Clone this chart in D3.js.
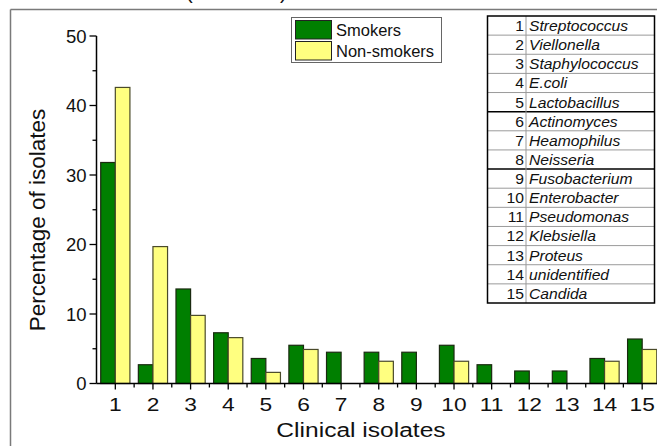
<!DOCTYPE html>
<html>
<head>
<meta charset="utf-8">
<script src="https://cdn.jsdelivr.net/npm/d3@7"></script>
<style>
  html, body { margin: 0; padding: 0; background: #fff; }
  svg { display: block; font-family: "Liberation Sans", Arial, sans-serif; }
</style>
</head>
<body>
<svg id="chart" width="657" height="446"></svg>
<script>
// Clinical isolate categories (1..15) and their names
const categories = [1, 2, 3, 4, 5, 6, 7, 8, 9, 10, 11, 12, 13, 14, 15];
const isolateNames = ["Streptococcus", "Viellonella", "Staphylococcus", "E.coli", "Lactobacillus",
  "Actinomyces", "Heamophilus", "Neisseria", "Fusobacterium", "Enterobacter",
  "Pseudomonas", "Klebsiella", "Proteus", "unidentified", "Candida"];

// Percentage of isolates per group
const smokers    = [31.8, 2.7, 13.6, 7.3, 3.6, 5.5, 4.5, 4.5, 4.5, 5.5, 2.7, 1.8, 1.8, 3.6, 6.4];
const nonSmokers = [42.6, 19.7, 9.8, 6.6, 1.6, 4.9, 0, 3.2, 0, 3.2, 0, 0, 0, 3.2, 4.9];

const seriesNames = ["Smokers", "Non-smokers"];
const seriesColors = ["#007f00", "#ffff80"];
const yTicks = [0, 10, 20, 30, 40, 50];

const svg = d3.select("#chart");

// outer frame (top and left edges)
svg.append("line").attr("x1", 10.5).attr("x2", 657).attr("y1", 9.5).attr("y2", 9.5)
  .attr("stroke", "#7a7a7a").attr("stroke-width", 1.5);
svg.append("line").attr("x1", 10.5).attr("x2", 10.5).attr("y1", 9.5).attr("y2", 446)
  .attr("stroke", "#7a7a7a").attr("stroke-width", 1.5);

// heading brackets, running off the top edge
svg.append("text").attr("x", 186).attr("y", -1).attr("font-size", 20).attr("fill", "#111").text("(");
svg.append("text").attr("x", 280).attr("y", -1).attr("font-size", 20).attr("fill", "#111").text(")");

// scales
const x = d3.scaleLinear().domain([0.5, 15.5]).range([96.5, 661]);
const y = d3.scaleLinear().domain([0, 50]).range([383.5, 36]);
const barW = 14.6;

// bars
const g = svg.append("g");
[smokers, nonSmokers].forEach((vals, si) => {
  g.selectAll(null).data(vals).enter().append("rect")
    .attr("x", (d, i) => si === 0 ? x(categories[i]) - barW : x(categories[i]))
    .attr("y", d => y(d))
    .attr("width", barW)
    .attr("height", d => y(0) - y(d))
    .attr("fill", seriesColors[si])
    .attr("stroke", si === 0 ? "#1a2a10" : "#4a4a2a")
    .attr("stroke-width", 1.2)
    .attr("display", d => d > 0 ? null : "none");
});

// y axis
const yAxis = svg.append("g").attr("transform", "translate(96.5,0)");
yAxis.append("line").attr("x1", 0).attr("x2", 0).attr("y1", y(50)).attr("y2", y(0))
  .attr("stroke", "#000").attr("stroke-width", 1.5);
yAxis.selectAll(".maj").data(yTicks).enter().append("line")
  .attr("x1", -7).attr("x2", 0).attr("y1", d => y(d)).attr("y2", d => y(d))
  .attr("stroke", "#000").attr("stroke-width", 1.3);
yAxis.selectAll(".min").data(d3.range(5, 50, 10)).enter().append("line")
  .attr("x1", -4).attr("x2", 0).attr("y1", d => y(d)).attr("y2", d => y(d))
  .attr("stroke", "#000").attr("stroke-width", 1.3);
yAxis.selectAll(".lbl").data(yTicks).enter().append("text")
  .attr("x", -10).attr("y", d => y(d) + 6.5)
  .attr("text-anchor", "end").attr("font-size", 18.5).attr("fill", "#111")
  .text(d => d);

// x axis
const xAxis = svg.append("g").attr("transform", `translate(0,${y(0)})`);
xAxis.append("line").attr("x1", x(0.5)).attr("x2", 657).attr("y1", 0).attr("y2", 0)
  .attr("stroke", "#000").attr("stroke-width", 1.5);
xAxis.selectAll(".maj").data(categories).enter().append("line")
  .attr("x1", d => x(d)).attr("x2", d => x(d)).attr("y1", 0).attr("y2", 6)
  .attr("stroke", "#000").attr("stroke-width", 1.3);
xAxis.selectAll(".min").data(d3.range(1.5, 15, 1)).enter().append("line")
  .attr("x1", d => x(d)).attr("x2", d => x(d)).attr("y1", 0).attr("y2", 4)
  .attr("stroke", "#000").attr("stroke-width", 1.3);
xAxis.selectAll(".lbl").data(categories).enter().append("text")
  .attr("transform", d => `translate(${x(d)},27.5) scale(1.3,1)`)
  .attr("text-anchor", "middle").attr("font-size", 17.5).attr("fill", "#111")
  .text(d => d);

// axis titles
svg.append("text").attr("transform", "translate(361,437) scale(1.17,1)")
  .attr("text-anchor", "middle").attr("font-size", 21).attr("fill", "#111")
  .text("Clinical isolates");
svg.append("text").attr("transform", "translate(45,220) rotate(-90)")
  .attr("text-anchor", "middle").attr("font-size", 22.5).attr("fill", "#111")
  .text("Percentage of isolates");

// legend
const leg = svg.append("g");
leg.append("rect").attr("x", 291.5).attr("y", 17.5).attr("width", 150).attr("height", 45)
  .attr("fill", "#fff").attr("stroke", "#666").attr("stroke-width", 1);
seriesNames.forEach((name, i) => {
  leg.append("rect").attr("x", 295.5).attr("y", 20.5 + i * 21).attr("width", 36).attr("height", 18.5)
    .attr("fill", seriesColors[i]).attr("stroke", "#222").attr("stroke-width", 1);
  leg.append("text").attr("x", 336).attr("y", 36 + i * 21)
    .attr("font-size", 16.5).attr("fill", "#111").text(name);
});

// isolate key table
const tbl = svg.append("g");
const tX = 487.5, tY = 16, tW = 167, colX = 526, rowH = (303 - 16) / 15;
tbl.append("rect").attr("x", tX).attr("y", tY).attr("width", tW).attr("height", rowH * 15)
  .attr("fill", "#fff").attr("stroke", "none");
tbl.selectAll(".row").data(d3.range(1, 15)).enter().append("line")
  .attr("x1", tX).attr("x2", tX + tW)
  .attr("y1", d => tY + d * rowH).attr("y2", d => tY + d * rowH)
  .attr("stroke", d => (d === 5 || d === 8) ? "#000" : "#9a9a9a")
  .attr("stroke-width", d => (d === 5 || d === 8) ? 1.5 : 1);
tbl.append("line").attr("x1", colX).attr("x2", colX).attr("y1", tY).attr("y2", tY + rowH * 15)
  .attr("stroke", "#9a9a9a").attr("stroke-width", 1);
tbl.append("rect").attr("x", tX).attr("y", tY).attr("width", tW).attr("height", rowH * 15)
  .attr("fill", "none").attr("stroke", "#000").attr("stroke-width", 1.5);
tbl.selectAll(".num").data(categories).enter().append("text")
  .attr("transform", (d, i) => `translate(${colX - 2},${tY + i * rowH + 15}) scale(1.08,1)`)
  .attr("text-anchor", "end").attr("font-size", 14.5).attr("fill", "#111")
  .text(d => d);
tbl.selectAll(".name").data(isolateNames).enter().append("text")
  .attr("transform", (d, i) => `translate(${colX + 3},${tY + i * rowH + 15}) scale(1.08,1)`)
  .attr("font-size", 14.5).attr("font-style", "italic").attr("fill", "#111")
  .text(d => d);
</script>
</body>
</html>
